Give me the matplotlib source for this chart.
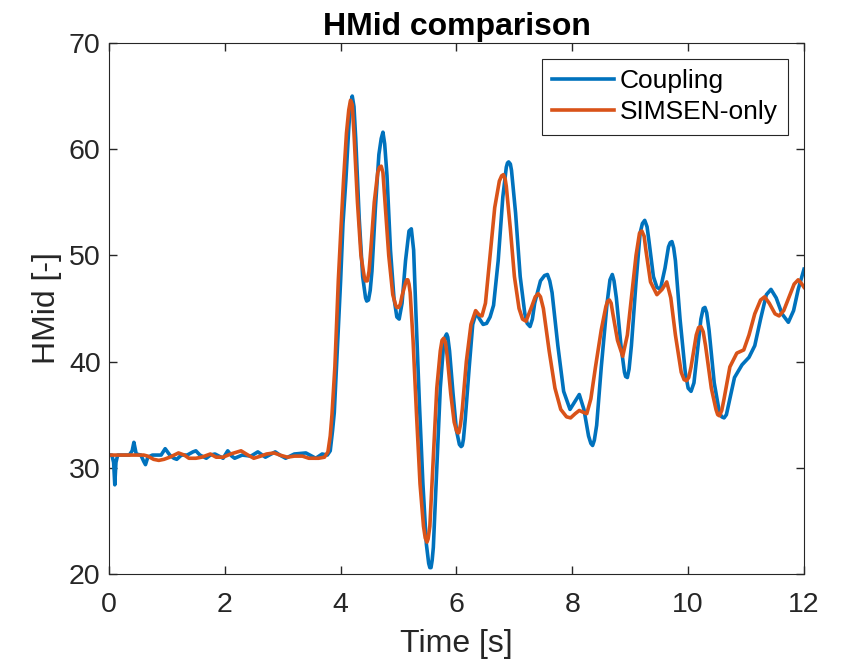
import matplotlib
matplotlib.use("Agg")
import matplotlib.pyplot as plt

plt.rcParams['font.family'] = ['Liberation Sans', 'DejaVu Sans']

# Coupling (blue) curve
t_coup = [0.00, 0.05, 0.08, 0.10, 0.12, 0.15, 0.35, 0.40, 0.43, 0.47, 0.55, 0.60, 0.63, 0.67,
          0.75, 0.90, 0.97, 1.05, 1.12, 1.17, 1.25, 1.35, 1.45, 1.50, 1.57, 1.68, 1.75, 1.83,
          1.97, 2.05, 2.12, 2.17, 2.30, 2.45, 2.57, 2.70, 2.87, 2.95, 3.05, 3.20, 3.40, 3.50,
          3.57, 3.68, 3.77, 3.82, 3.86, 3.89, 3.95, 4.00, 4.04, 4.09, 4.14, 4.17, 4.20, 4.23,
          4.26, 4.32, 4.38, 4.43, 4.45, 4.48, 4.51, 4.54, 4.60, 4.66, 4.70, 4.73, 4.76, 4.80,
          4.86, 4.92, 4.97, 5.01, 5.06, 5.12, 5.18, 5.22, 5.26, 5.30, 5.36, 5.42, 5.48, 5.52,
          5.54, 5.56, 5.58, 5.60, 5.66, 5.72, 5.78, 5.81, 5.83, 5.85, 5.88, 5.94, 6.00, 6.05,
          6.08, 6.10, 6.12, 6.15, 6.22, 6.28, 6.34, 6.40, 6.46, 6.52, 6.58, 6.64, 6.72, 6.80,
          6.86, 6.88, 6.90, 6.93, 6.95, 7.02, 7.10, 7.18, 7.22, 7.27, 7.31, 7.35, 7.45, 7.52,
          7.57, 7.61, 7.65, 7.75, 7.85, 7.96, 8.04, 8.12, 8.20, 8.28, 8.32, 8.35, 8.38, 8.42,
          8.50, 8.60, 8.65, 8.69, 8.72, 8.76, 8.84, 8.90, 8.92, 8.95, 8.98, 9.02, 9.10, 9.17,
          9.21, 9.25, 9.29, 9.32, 9.40, 9.46, 9.52, 9.60, 9.66, 9.69, 9.72, 9.75, 9.78, 9.86,
          9.95, 10.00, 10.05, 10.10, 10.14, 10.22, 10.26, 10.29, 10.32, 10.36, 10.45, 10.54,
          10.58, 10.62, 10.66, 10.70, 10.80, 10.93, 11.05, 11.15, 11.25, 11.35, 11.43, 11.52,
          11.62, 11.73, 11.82, 11.90, 12.00]
h_coup = [31.2, 31.2, 30.5, 28.4, 30.5, 31.2, 31.2, 31.6, 32.4, 31.3, 31.2, 30.6, 30.3, 31.0,
          31.2, 31.2, 31.8, 31.2, 30.9, 30.8, 31.2, 31.2, 31.5, 31.6, 31.2, 30.9, 31.2, 31.3,
          30.9, 31.6, 31.1, 30.9, 31.2, 31.1, 31.5, 31.0, 31.5, 31.2, 30.9, 31.3, 31.4, 31.1,
          30.9, 31.3, 31.2, 31.6, 33.5, 35.2, 42.0, 47.7, 53.0, 57.1, 62.0, 64.3, 65.0, 64.0,
          61.0, 53.5, 48.0, 46.0, 45.7, 45.8, 46.7, 48.5, 54.5, 59.5, 61.0, 61.6, 60.5, 57.5,
          50.5, 46.0, 44.2, 44.0, 45.5, 49.5, 52.3, 52.5, 50.5, 44.5, 36.0, 28.5, 22.8, 21.0,
          20.6, 20.6, 21.3, 22.5, 30.0, 37.5, 41.8, 42.4, 42.6, 42.3, 41.0, 37.0, 33.5, 32.2,
          32.0, 32.1, 32.7, 34.5, 39.5, 43.5, 44.6, 44.0, 43.5, 43.6, 44.2, 45.3, 49.5, 55.5,
          58.3, 58.7, 58.8, 58.6, 58.0, 54.0, 48.0, 44.5, 43.6, 43.3, 44.0, 45.5, 47.6, 48.1,
          48.2, 47.6, 46.5, 41.5, 37.2, 35.5, 36.2, 36.9, 35.5, 33.0, 32.3, 32.1, 32.6, 34.0,
          39.5, 45.5, 47.7, 48.2, 47.6, 46.0, 41.5, 39.0, 38.6, 38.5, 39.3, 41.5, 47.5, 52.1,
          53.0, 53.3, 52.7, 51.5, 48.0, 47.0, 46.8, 48.8, 50.8, 51.2, 51.3, 50.7, 49.5, 44.0,
          39.0, 37.5, 37.2, 38.0, 40.0, 44.0, 45.0, 45.1, 44.6, 43.0, 38.0, 35.2,
          34.8, 34.7, 35.0, 36.0, 38.5, 39.7, 40.4, 41.5, 44.0, 46.3, 46.8, 46.0,
          44.5, 43.7, 44.8, 46.8, 48.7]

# SIMSEN-only (orange) curve
t_sim = [0.00, 0.60, 0.67, 0.77, 0.86, 0.95, 1.05, 1.20, 1.30, 1.38, 1.50, 1.60, 1.75, 1.85,
         1.97, 2.10, 2.28, 2.40, 2.50, 2.62, 2.72, 2.85, 2.95, 3.08, 3.20, 3.34, 3.45, 3.62,
         3.72, 3.78, 3.82, 3.85, 3.90, 3.96, 4.00, 4.05, 4.10, 4.14, 4.17, 4.20, 4.23, 4.29,
         4.35, 4.41, 4.43, 4.46, 4.49, 4.52, 4.58, 4.64, 4.67, 4.70, 4.73, 4.76, 4.83, 4.90,
         4.95, 4.97, 5.00, 5.03, 5.06, 5.12, 5.14, 5.16, 5.18, 5.20, 5.25, 5.31, 5.37, 5.43,
         5.46, 5.49, 5.51, 5.54, 5.60, 5.66, 5.72, 5.75, 5.78, 5.81, 5.84, 5.90, 5.96, 6.00,
         6.02, 6.04, 6.07, 6.10, 6.17, 6.25, 6.33, 6.39, 6.44, 6.50, 6.58, 6.66, 6.74, 6.78,
         6.81, 6.84, 6.86, 6.93, 7.00, 7.08, 7.14, 7.20, 7.30, 7.36, 7.41, 7.45, 7.50, 7.60,
         7.70, 7.80, 7.90, 7.97, 8.05, 8.12, 8.20, 8.25, 8.32, 8.40, 8.50, 8.58, 8.61, 8.64,
         8.67, 8.70, 8.78, 8.87, 8.95, 9.03, 9.10, 9.16, 9.20, 9.24, 9.27, 9.35, 9.46, 9.55,
         9.63, 9.70, 9.78, 9.88, 9.93, 9.97, 10.01, 10.05, 10.14, 10.18, 10.22, 10.26, 10.30,
         10.40, 10.48, 10.51, 10.54, 10.58, 10.62, 10.72, 10.84, 10.96, 11.05, 11.15, 11.25,
         11.32, 11.40, 11.50, 11.57, 11.65, 11.75, 11.83, 11.90, 11.95, 12.00]
h_sim = [31.2, 31.2, 31.1, 30.8, 30.7, 30.8, 31.0, 31.4, 31.2, 30.9, 30.9, 31.0, 31.3, 31.0,
         31.0, 31.3, 31.6, 31.2, 30.9, 31.1, 31.3, 31.4, 31.2, 31.0, 31.1, 31.1, 30.9, 30.9,
         31.0, 31.5, 33.0, 35.0, 39.5, 47.7, 52.0, 57.1, 61.5, 63.7, 64.6, 64.2, 61.5, 55.0,
         50.0, 47.9, 47.6, 47.6, 48.5, 50.5, 55.0, 57.8, 58.3, 58.4, 57.8, 55.5, 50.0, 46.3,
         45.3, 45.1, 45.1, 45.4, 46.2, 47.4, 47.7, 47.7, 47.3, 46.5, 42.0, 35.0, 28.5, 24.5,
         23.4, 23.0, 23.3, 24.5, 31.0, 37.5, 41.0, 42.0, 42.2, 41.8, 40.5, 37.0, 34.3, 33.5,
         33.3, 33.3, 34.1, 35.5, 40.0, 43.5, 44.8, 44.4, 44.3, 45.5, 50.0, 54.5, 57.0, 57.5,
         57.6, 57.2, 56.5, 52.5, 48.0, 45.0, 44.0, 43.8, 45.2, 46.1, 46.4, 46.1, 45.0, 41.0,
         37.5, 35.5, 34.8, 34.7, 35.1, 35.4, 35.2, 35.1, 36.5, 39.5, 43.0, 45.2, 45.7, 45.8,
         45.5, 44.5, 42.0, 40.5, 42.5, 46.5, 50.0, 52.1, 52.3, 51.8, 50.5, 47.5, 46.3, 46.8,
         47.5, 46.0, 42.5, 39.0, 38.3, 38.2, 38.5, 39.5, 42.5, 43.2, 43.3, 42.8, 41.5,
         37.5, 35.5, 35.0, 34.9, 35.4, 36.5, 39.5, 40.8, 41.1, 42.5, 44.5, 45.8,
         46.1, 45.5, 44.5, 44.3, 44.8, 46.2, 47.3, 47.7, 47.4, 47.0]

fig = plt.figure(figsize=(8.41, 6.63), dpi=100)
ax = fig.add_axes([0.1296, 0.1342, 0.8264, 0.8010])

ax.plot(t_coup, h_coup, color='#0072BD', lw=2.6, label='Coupling', solid_joinstyle='round')
ax.plot(t_sim, h_sim, color='#D95319', lw=2.6, label='SIMSEN-only', solid_joinstyle='round')

ax.set_xlim(0, 12)
ax.set_ylim(20, 70)
ax.set_xticks(range(0, 13, 2))
ax.set_yticks(range(20, 71, 10))
ax.tick_params(direction='in', top=True, right=True, labelsize=20.5, colors='#262626',
               length=6, width=1)
ax.tick_params(axis='x', pad=13)
ax.tick_params(axis='y', pad=6)
for s in ax.spines.values():
    s.set_color('#262626')
ax.set_xlabel('Time [s]', fontsize=23, color='#262626', labelpad=8)
ax.set_ylabel('HMid [-]', fontsize=23, color='#262626', labelpad=5)
ax.set_title('HMid comparison', fontsize=23, fontweight='bold', pad=6)

leg = ax.legend(loc='upper right', fontsize=19, handlelength=2.35, fancybox=False,
                edgecolor='#262626', framealpha=1, borderaxespad=0.6, labelspacing=0.25,
                handletextpad=0.2, borderpad=0.4)
leg.get_frame().set_linewidth(0.8)

fig.savefig('out.png', dpi=100)
